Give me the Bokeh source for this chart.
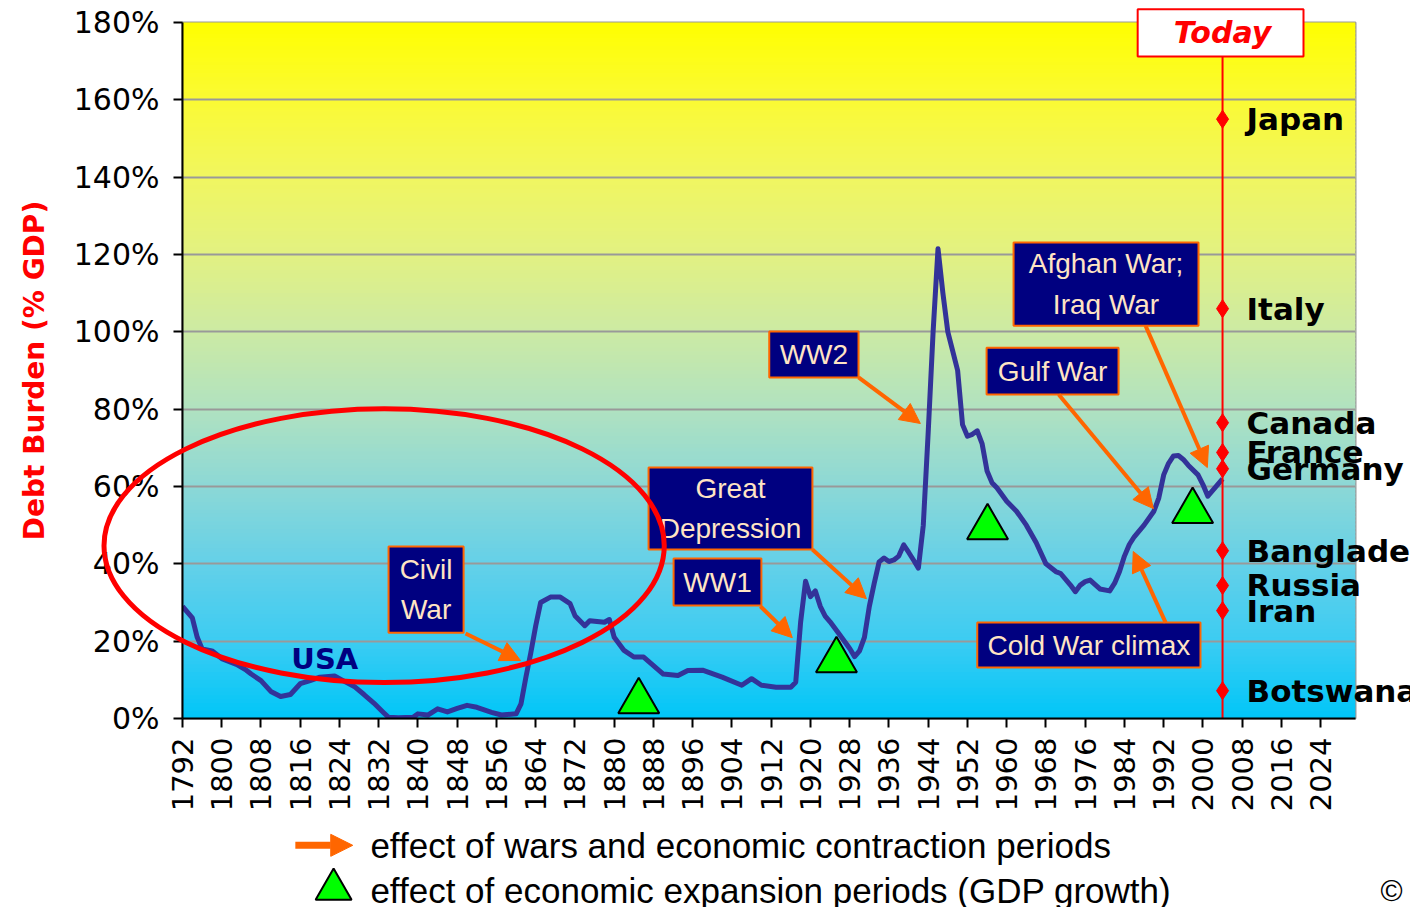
import math
from bokeh.plotting import figure
from bokeh.models import (Range1d, FixedTicker, PrintfTickFormatter, Arrow,
                          NormalHead, ColumnDataSource)
from bokeh.core.properties import value
from bokeh.embed import file_html
from bokeh.resources import INLINE

# ---------------- data ----------------
years = [1792, 1793, 1794, 1795, 1796, 1798, 1800, 1803, 1805, 1806, 1808, 1810, 1812, 1814,
         1816, 1818, 1820, 1823, 1825, 1827, 1829, 1831, 1833, 1834, 1836, 1839, 1840, 1842,
         1844, 1846, 1848, 1850, 1852, 1855, 1857, 1860, 1861, 1862, 1863, 1864, 1865, 1867,
         1869, 1871, 1872, 1874, 1875, 1878, 1879, 1880, 1882, 1884, 1886, 1888, 1890, 1893,
         1895, 1898, 1902, 1906, 1908, 1910, 1913, 1916, 1917, 1918, 1919, 1920, 1921, 1922,
         1923, 1924, 1926, 1928, 1929, 1930, 1931, 1932, 1933, 1934, 1935, 1936, 1937, 1938,
         1939, 1940, 1941, 1942, 1943, 1944, 1945, 1946, 1947, 1948, 1949, 1950, 1951, 1952,
         1953, 1954, 1955, 1956, 1957, 1958, 1960, 1962, 1964, 1966, 1968, 1970, 1971, 1973,
         1974, 1975, 1976, 1977, 1979, 1981, 1982, 1983, 1984, 1985, 1986, 1988, 1990, 1991,
         1992, 1993, 1994, 1995, 1996, 1997, 1999, 2000, 2001, 2002, 2003, 2004]
usa_debt = [29, 27.5, 26, 21, 18, 17.5, 15.5, 14, 12.5, 11.5, 9.8, 7, 5.7, 6.2,
            9, 9.8, 10.7, 11, 9.6, 8.3, 6.2, 4, 1.5, 0.3, 0.2, 0.3, 1.2, 0.9,
            2.5, 1.7, 2.6, 3.4, 2.9, 1.6, 0.9, 1.2, 3.8, 10.7, 17, 24, 30, 31.4,
            31.4, 29.7, 26.6, 24, 25.3, 24.9, 25.6, 21, 17.6, 15.9, 15.9, 13.7, 11.5, 11.1,
            12.4, 12.5, 10.7, 8.6, 10.3, 8.6, 8.1, 8.1, 9.4, 25, 35.5, 31.5, 33, 29,
            26.5, 25, 21.6, 18.1, 16, 17.5, 21, 29, 35, 40.5, 41.5, 40.6, 41, 42,
            44.9, 43, 41, 38.9, 50, 74, 100, 121.5, 110, 100, 95, 90, 76, 73,
            73.5, 74.4, 71, 64, 61, 59.7, 56.2, 53.6, 50, 45.5, 40, 38, 37.5, 34.5,
            32.8, 34.5, 35.4, 35.8, 33.5, 33, 35, 38, 42, 45, 47, 50, 53.6, 57,
            63, 66, 67.9, 68, 67, 65.5, 63, 60.5, 57.5, 59, 60.5, 62]

countries = ["Japan", "Italy", "Canada", "France", "Germany", "Bangladesh", "Russia", "Iran", "Botswana"]
country_debt = [155, 106, 76.5, 68.8, 64.6, 43.4, 34.4, 27.9, 7.2]
today_year = 2004

expansion_years = [1885, 1925.3, 1956.1, 1997.9]
expansion_levels = [4.4, 15.0, 49.4, 53.6]

x_tick_years = list(range(1792, 2025, 8))
y_tick_values = list(range(0, 181, 20))

event_labels = ["Civil\nWar", "WW1", "Great\nDepression", "WW2", "Gulf War",
                "Afghan War;\nIraq War", "Cold War climax"]
legend_texts = ["effect of wars and economic contraction periods",
                "effect of economic expansion periods (GDP growth)"]

# ---------------- annotation placement (data units) ----------------
box_left = [1834.0, 1892.1, 1887.0, 1911.6, 1955.9, 1961.4, 1954.0]
box_right = [1849.3, 1910.0, 1920.4, 1929.8, 1982.8, 1999.1, 1999.5]
box_bottom = [22.2, 29.2, 43.7, 88.2, 83.8, 101.6, 13.2]
box_top = [44.5, 41.4, 64.9, 100.1, 95.9, 123.1, 24.8]
arrow_from = [(1849.7, 22.0), (1909.8, 29.0), (1920.4, 43.7), (1929.8, 88.2),
              (1970.6, 83.8), (1988.3, 101.6), (1992.4, 24.8)]
arrow_to = [(1860.9, 15.0), (1916.3, 20.9), (1931.4, 31.0), (1942.4, 76.3),
            (1989.9, 54.3), (2000.9, 64.9), (1985.8, 43.2)]

# ---------------- geometry ----------------
W, H = 1402, 899
BL, BR, BT, BB = 182, 47, 22, 181
X0, X1 = 1792, 2031.1
Y0, Y1 = 0, 180
ppx = (W - BL - BR) / (X1 - X0)
ppy = (H - BT - BB) / (Y1 - Y0)
OW, OH = 1410, 907  # overlay canvas (full window)

# ---------------- main figure ----------------
p = figure(width=W, height=H, x_range=Range1d(X0, X1), y_range=Range1d(Y0, Y1),
           output_backend="svg", toolbar_location=None,
           min_border_left=BL, min_border_right=BR, min_border_top=BT, min_border_bottom=BB)
p.border_fill_color = "white"
p.background_fill_color = "white"
p.outline_line_color = "#999999"
p.outline_line_width = 2

stops = [(0, (0, 198, 248)), (20, (60, 204, 242)), (40, (100, 208, 232)), (60, (140, 216, 214)),
         (80, (176, 226, 192)), (100, (204, 234, 164)), (120, (226, 241, 130)),
         (140, (240, 246, 96)), (160, (250, 250, 52)), (180, (255, 255, 0))]
def grad(v):
    for (a, ca), (b, cb) in zip(stops[:-1], stops[1:]):
        if a <= v <= b:
            t = (v - a) / (b - a)
            c = [round(ca[i] + (cb[i] - ca[i]) * t) for i in range(3)]
            return "#%02x%02x%02x" % tuple(c)
    return "#ffff00"
bands = list(range(0, 180))
p.quad(left=X0, right=X1, bottom=bands, top=[b + 1.4 for b in bands],
       fill_color=[grad(b + 0.5) for b in bands], line_color=None, level="image")

p.xgrid.visible = False
p.ygrid.ticker = FixedTicker(ticks=y_tick_values)
p.ygrid.grid_line_color = "#999999"
p.ygrid.grid_line_width = 2

p.xaxis.ticker = FixedTicker(ticks=x_tick_years)
p.xaxis.major_label_orientation = math.pi / 2
p.xaxis.major_label_text_font = "DejaVu Sans"
p.xaxis.major_label_text_font_size = "29px"
p.xaxis.major_label_text_color = "black"
p.xaxis.major_label_standoff = 10
p.xaxis.major_tick_out = 9
p.xaxis.major_tick_in = 0
p.xaxis.minor_tick_out = 0
p.xaxis.minor_tick_in = 0
p.xaxis.axis_line_width = 2
p.xaxis.major_tick_line_width = 2

p.yaxis.ticker = FixedTicker(ticks=y_tick_values)
p.yaxis.formatter = PrintfTickFormatter(format="%d%%")
p.yaxis.major_label_text_font = "DejaVu Sans"
p.yaxis.major_label_text_font_size = "30px"
p.yaxis.major_label_text_color = "black"
p.yaxis.major_label_standoff = 14
p.yaxis.major_tick_out = 9
p.yaxis.major_tick_in = 0
p.yaxis.minor_tick_out = 0
p.yaxis.minor_tick_in = 0
p.yaxis.axis_line_width = 2
p.yaxis.major_tick_line_width = 2
p.yaxis.axis_label = "Debt Burden (% GDP)"
p.yaxis.axis_label_text_color = "red"
p.yaxis.axis_label_text_font = "DejaVu Sans"
p.yaxis.axis_label_text_font_style = "bold"
p.yaxis.axis_label_text_font_size = "28px"
p.yaxis.axis_label_standoff = 20

p.line(years, usa_debt, line_color="#333399", line_width=5, line_join="round")
p.text(x=[1821], y=[15.3], text=["USA"], text_font=value("DejaVu Sans"), text_font_style="bold",
       text_font_size="29px", text_color="#000080", text_align="center", text_baseline="middle")

p.scatter(expansion_years, expansion_levels, marker="triangle", size=41,
          fill_color="#00ff00", line_color="black", line_width=2)

p.quad(left=box_left, right=box_right, bottom=box_bottom, top=box_top,
       fill_color="#000080", line_color="#ff6600", line_width=2)
tsrc = ColumnDataSource(dict(
    x=[(a + b) / 2 for a, b in zip(box_left, box_right)],
    y=[(a + b) / 2 for a, b in zip(box_bottom, box_top)],
    t=event_labels))
p.text(x="x", y="y", text="t", source=tsrc, text_align="center", text_baseline="middle",
       text_color="#ffe4c4", text_font=value("Liberation Sans"), text_font_size="28px",
       text_line_height=1.3)

for (xs, ys), (xe, ye) in zip(arrow_from, arrow_to):
    p.add_layout(Arrow(end=NormalHead(size=20, fill_color="#ff6600", line_color="#ff6600"),
                       x_start=xs, y_start=ys, x_end=xe, y_end=ye,
                       line_color="#ff6600", line_width=4))

p.segment(x0=[today_year], y0=[0], x1=[today_year], y1=[171.2], line_color="red", line_width=2)
p.scatter([today_year] * len(country_debt), country_debt, marker="diamond", size=18,
          fill_color="red", line_color="red")

# ---------------- transparent overlay (same scales, whole window) ----------------
q = figure(width=OW, height=OH,
           x_range=Range1d(X0 - BL / ppx, X1 + (OW - W + BR) / ppx),
           y_range=Range1d(Y0 - (OH - H + BB) / ppy, Y1 + BT / ppy),
           output_backend="svg", toolbar_location=None, min_border=0,
           x_axis_type=None, y_axis_type=None)
q.background_fill_color = None
q.border_fill_color = None
q.outline_line_color = None
q.styles = {"position": "absolute", "top": "0px", "left": "0px"}

# red ellipse highlight
q.ellipse(x=[1833.1], y=[44.7], width=[114.2], height=[70.8],
          fill_color=None, line_color="red", line_width=5)

# country labels
q.text(x=[today_year] * len(countries), y=country_debt, text=countries, x_offset=24,
       text_font=value("DejaVu Sans"), text_font_style="bold", text_font_size="31px",
       text_color="black", text_baseline="middle", text_align="left")

# Today box
q.quad(left=[1986.7], right=[2020.5], bottom=[171.2], top=[183.4],
       fill_color="white", line_color="red", line_width=2)
q.text(x=[today_year], y=[177.3], text=["Today"], text_font=value("DejaVu Sans"),
       text_font_style="bold italic", text_font_size="30px", text_color="red",
       text_align="center", text_baseline="middle")

# bottom legend
q.add_layout(Arrow(end=NormalHead(size=22, fill_color="#ff6600", line_color="#ff6600"),
                   x_start=1815.0, y_start=-32.8, x_end=1826.7, y_end=-32.8,
                   line_color="#ff6600", line_width=7))
q.scatter([1822.8], [-44.2], marker="triangle", size=36,
          fill_color="#00ff00", line_color="black", line_width=2)
q.text(x=[1830.3, 1830.3], y=[-32.8, -44.5], text=legend_texts,
       text_font=value("Liberation Sans"), text_font_size="35px", text_color="black",
       text_baseline="middle", text_align="left")
q.text(x=[2036.2], y=[-44.5], text=["©"], text_font=value("Liberation Sans"),
       text_font_size="30px", text_color="black", text_baseline="middle")

open("out.html", "w").write(file_html([p, q], INLINE))
